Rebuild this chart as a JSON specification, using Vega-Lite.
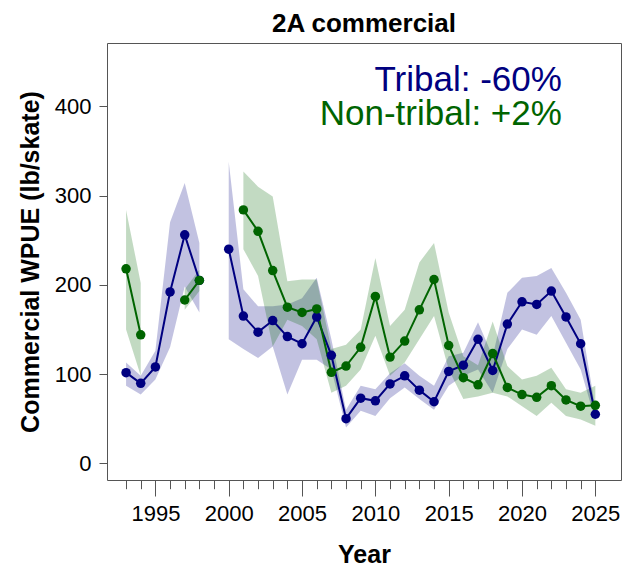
{
  "$schema": "https://vega.github.io/schema/vega-lite/v6.json",
  "width": 514,
  "height": 437,
  "autosize": {"type": "none"},
  "padding": {"left": 107, "top": 43, "right": 7, "bottom": 87},
  "background": "white",
  "title": {
    "text": "2A commercial",
    "font": "Liberation Sans",
    "fontSize": 26,
    "fontWeight": "bold",
    "color": "black",
    "anchor": "middle",
    "baseline": "bottom",
    "offset": 10,
    "dy": 30
  },
  "config": {
    "view": {"stroke": "#555555", "strokeWidth": 1},
    "axis": {
      "labelFont": "Liberation Sans",
      "labelColor": "black",
      "titleFont": "Liberation Sans",
      "titleColor": "black",
      "titleFontWeight": "bold",
      "tickColor": "#555555",
      "tickWidth": 1,
      "domain": false,
      "grid": false
    }
  },
  "data": {
    "values": [
      {"year": 1993, "series": "Tribal", "wpue": 101.6, "lo": 87, "hi": 113},
      {"year": 1994, "series": "Tribal", "wpue": 89.6, "lo": 77, "hi": 98},
      {"year": 1995, "series": "Tribal", "wpue": 108, "lo": 94, "hi": 126},
      {"year": 1996, "series": "Tribal", "wpue": 192, "lo": 130, "hi": 270},
      {"year": 1997, "series": "Tribal", "wpue": 256, "lo": 198, "hi": 314},
      {"year": 1998, "series": "Tribal", "wpue": 205, "lo": 169, "hi": 247},
      {"year": 1999, "series": "Tribal", "wpue": null, "lo": null, "hi": null},
      {"year": 2000, "series": "Tribal", "wpue": 240, "lo": 139, "hi": 338},
      {"year": 2001, "series": "Tribal", "wpue": 165, "lo": 128, "hi": 195},
      {"year": 2002, "series": "Tribal", "wpue": 147, "lo": 118, "hi": 176},
      {"year": 2003, "series": "Tribal", "wpue": 160, "lo": 131, "hi": 176},
      {"year": 2004, "series": "Tribal", "wpue": 142, "lo": 77, "hi": 178},
      {"year": 2005, "series": "Tribal", "wpue": 134, "lo": 116, "hi": 185},
      {"year": 2006, "series": "Tribal", "wpue": 164, "lo": 116, "hi": 208},
      {"year": 2007, "series": "Tribal", "wpue": 121, "lo": 105, "hi": 139},
      {"year": 2008, "series": "Tribal", "wpue": 50, "lo": 40, "hi": 60},
      {"year": 2009, "series": "Tribal", "wpue": 73, "lo": 59, "hi": 87},
      {"year": 2010, "series": "Tribal", "wpue": 70, "lo": 53, "hi": 83},
      {"year": 2011, "series": "Tribal", "wpue": 89, "lo": 73, "hi": 101},
      {"year": 2012, "series": "Tribal", "wpue": 98, "lo": 85, "hi": 112},
      {"year": 2013, "series": "Tribal", "wpue": 82, "lo": 72, "hi": 98},
      {"year": 2014, "series": "Tribal", "wpue": 69, "lo": 60, "hi": 87},
      {"year": 2015, "series": "Tribal", "wpue": 103, "lo": 87, "hi": 120},
      {"year": 2016, "series": "Tribal", "wpue": 110, "lo": 98, "hi": 124},
      {"year": 2017, "series": "Tribal", "wpue": 139, "lo": 105, "hi": 158},
      {"year": 2018, "series": "Tribal", "wpue": 104, "lo": 79, "hi": 120},
      {"year": 2019, "series": "Tribal", "wpue": 156, "lo": 128, "hi": 191},
      {"year": 2020, "series": "Tribal", "wpue": 181, "lo": 150, "hi": 208},
      {"year": 2021, "series": "Tribal", "wpue": 178, "lo": 144, "hi": 210},
      {"year": 2022, "series": "Tribal", "wpue": 193, "lo": 165, "hi": 219},
      {"year": 2023, "series": "Tribal", "wpue": 164, "lo": 135, "hi": 191},
      {"year": 2024, "series": "Tribal", "wpue": 134, "lo": 105, "hi": 161},
      {"year": 2025, "series": "Tribal", "wpue": 55, "lo": 48, "hi": 62},
      {"year": 1993, "series": "Non-tribal", "wpue": 218, "lo": 150, "hi": 284},
      {"year": 1994, "series": "Non-tribal", "wpue": 144, "lo": 98, "hi": 202},
      {"year": 1995, "series": "Non-tribal", "wpue": null, "lo": null, "hi": null},
      {"year": 1996, "series": "Non-tribal", "wpue": null, "lo": null, "hi": null},
      {"year": 1997, "series": "Non-tribal", "wpue": 183, "lo": 172, "hi": 195},
      {"year": 1998, "series": "Non-tribal", "wpue": 205, "lo": 193, "hi": 217},
      {"year": 1999, "series": "Non-tribal", "wpue": null, "lo": null, "hi": null},
      {"year": 2000, "series": "Non-tribal", "wpue": null, "lo": null, "hi": null},
      {"year": 2001, "series": "Non-tribal", "wpue": 284, "lo": 240, "hi": 327},
      {"year": 2002, "series": "Non-tribal", "wpue": 260, "lo": 210, "hi": 310},
      {"year": 2003, "series": "Non-tribal", "wpue": 216, "lo": 131, "hi": 299},
      {"year": 2004, "series": "Non-tribal", "wpue": 175, "lo": 161, "hi": 204},
      {"year": 2005, "series": "Non-tribal", "wpue": 169, "lo": 154, "hi": 206},
      {"year": 2006, "series": "Non-tribal", "wpue": 173, "lo": 139, "hi": 206},
      {"year": 2007, "series": "Non-tribal", "wpue": 102, "lo": 79, "hi": 128},
      {"year": 2008, "series": "Non-tribal", "wpue": 109, "lo": 87, "hi": 133},
      {"year": 2009, "series": "Non-tribal", "wpue": 130, "lo": 105, "hi": 150},
      {"year": 2010, "series": "Non-tribal", "wpue": 187, "lo": 143, "hi": 230},
      {"year": 2011, "series": "Non-tribal", "wpue": 119, "lo": 98, "hi": 154},
      {"year": 2012, "series": "Non-tribal", "wpue": 137, "lo": 113, "hi": 172},
      {"year": 2013, "series": "Non-tribal", "wpue": 172, "lo": 139, "hi": 225},
      {"year": 2014, "series": "Non-tribal", "wpue": 206, "lo": 165, "hi": 247},
      {"year": 2015, "series": "Non-tribal", "wpue": 132, "lo": 105, "hi": 169},
      {"year": 2016, "series": "Non-tribal", "wpue": 96, "lo": 72, "hi": 120},
      {"year": 2017, "series": "Non-tribal", "wpue": 88, "lo": 75, "hi": 110},
      {"year": 2018, "series": "Non-tribal", "wpue": 123, "lo": 79, "hi": 159},
      {"year": 2019, "series": "Non-tribal", "wpue": 85, "lo": 75, "hi": 109},
      {"year": 2020, "series": "Non-tribal", "wpue": 77, "lo": 64, "hi": 94},
      {"year": 2021, "series": "Non-tribal", "wpue": 74, "lo": 53, "hi": 98},
      {"year": 2022, "series": "Non-tribal", "wpue": 87, "lo": 68, "hi": 107},
      {"year": 2023, "series": "Non-tribal", "wpue": 71, "lo": 53, "hi": 83},
      {"year": 2024, "series": "Non-tribal", "wpue": 64, "lo": 49, "hi": 79},
      {"year": 2025, "series": "Non-tribal", "wpue": 65, "lo": 42, "hi": 87}
    ]
  },
  "resolve": {"axis": {"x": "independent"}},
  "layer": [
    {
      "mark": {"type": "area", "opacity": 0.24, "invalid": "break-paths-show-domains"},
      "encoding": {
        "x": {
          "field": "year", "type": "quantitative",
          "scale": {"domain": [1991.7, 2026.75], "nice": false, "zero": false},
          "axis": {
            "orient": "bottom",
            "values": [1993,1994,1995,1996,1997,1998,1999,2000,2001,2002,2003,2004,2005,2006,2007,2008,2009,2010,2011,2012,2013,2014,2015,2016,2017,2018,2019,2020,2021,2022,2023,2024,2025],
            "labels": false, "title": null, "tickSize": 8.7
          }
        },
        "y": {
          "field": "lo", "type": "quantitative",
          "scale": {"domain": [-18.7, 471], "nice": false, "zero": false},
          "axis": {"title": "Commercial WPUE (lb/skate)", "values": [0, 100, 200, 300, 400], "tickSize": 8, "labelPadding": 8, "labelFontSize": 22, "titleFontSize": 25, "titlePadding": 11}
        },
        "y2": {"field": "hi"},
        "color": {"field": "series", "type": "nominal", "scale": {"domain": ["Tribal", "Non-tribal"], "range": ["#000080", "#006400"]}, "legend": null}
      }
    },
    {
      "mark": {"type": "line", "strokeWidth": 2, "invalid": "break-paths-show-domains"},
      "encoding": {
        "x": {
          "field": "year", "type": "quantitative",
          "axis": {"orient": "bottom", "values": [1995, 2000, 2005, 2010, 2015, 2020, 2025], "format": "d", "tickSize": 16, "labelPadding": 7, "labelFontSize": 22, "title": "Year", "titleFontSize": 25, "titlePadding": 18}
        },
        "y": {
          "field": "wpue", "type": "quantitative",
          "axis": {"title": "Commercial WPUE (lb/skate)", "values": [0, 100, 200, 300, 400], "tickSize": 8, "labelPadding": 8, "labelFontSize": 22, "titleFontSize": 25, "titlePadding": 11}
        },
        "color": {"field": "series", "type": "nominal", "legend": null}
      }
    },
    {
      "mark": {"type": "point", "filled": true, "size": 90, "opacity": 1, "shape": "circle"},
      "encoding": {
        "x": {"field": "year", "type": "quantitative", "axis": null},
        "y": {
          "field": "wpue", "type": "quantitative",
          "axis": {"title": "Commercial WPUE (lb/skate)", "values": [0, 100, 200, 300, 400], "tickSize": 8, "labelPadding": 8, "labelFontSize": 22, "titleFontSize": 25, "titlePadding": 11}
        },
        "color": {"field": "series", "type": "nominal", "legend": null}
      }
    },
    {
      "data": {"values": [{"label": "Tribal: -60%"}]},
      "mark": {"type": "text", "align": "right", "baseline": "alphabetic", "font": "Liberation Sans", "fontSize": 35, "color": "#000080"},
      "encoding": {
        "x": {"datum": 2022.72, "type": "quantitative", "axis": null},
        "y": {
          "datum": 416.8, "type": "quantitative",
          "axis": {"title": "Commercial WPUE (lb/skate)", "values": [0, 100, 200, 300, 400], "tickSize": 8, "labelPadding": 8, "labelFontSize": 22, "titleFontSize": 25, "titlePadding": 11}
        },
        "text": {"field": "label"}
      }
    },
    {
      "data": {"values": [{"label": "Non-tribal: +2%"}]},
      "mark": {"type": "text", "align": "right", "baseline": "alphabetic", "font": "Liberation Sans", "fontSize": 35, "color": "#006400"},
      "encoding": {
        "x": {"datum": 2022.72, "type": "quantitative", "axis": null},
        "y": {
          "datum": 379.5, "type": "quantitative",
          "axis": {"title": "Commercial WPUE (lb/skate)", "values": [0, 100, 200, 300, 400], "tickSize": 8, "labelPadding": 8, "labelFontSize": 22, "titleFontSize": 25, "titlePadding": 11}
        },
        "text": {"field": "label"}
      }
    }
  ]
}
